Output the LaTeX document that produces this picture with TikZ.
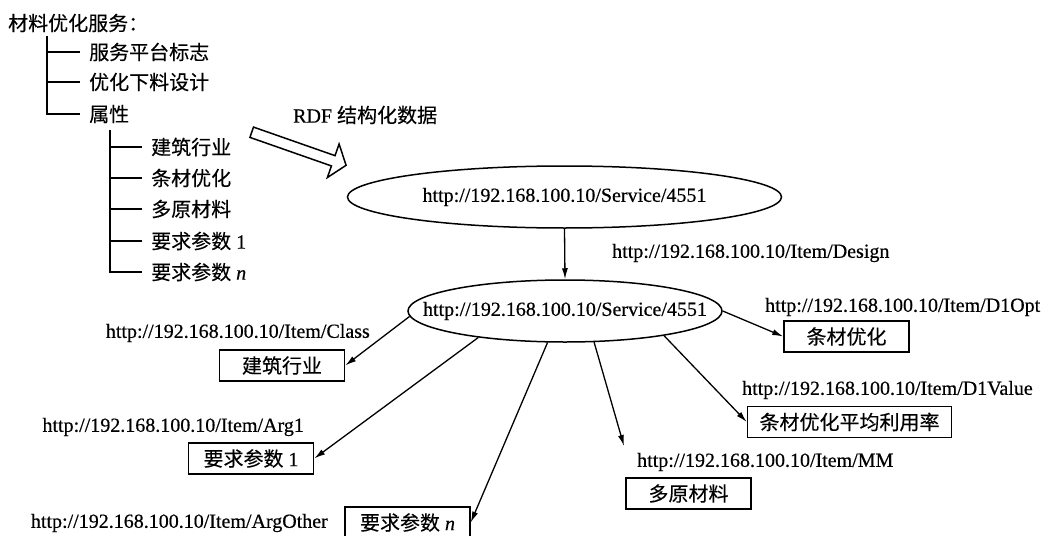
\documentclass[tikz,border=0pt]{standalone}
\usepackage{fontspec}
\setmainfont{Liberation Serif}[FakeBold=0.5]
\newfontfamily\cjk{Noto Sans CJK SC}[FakeBold=0.3]
\usetikzlibrary{arrows.meta,shapes.geometric,shapes.arrows}

\tikzset{
	txt/.style={font=\fontsize{20}{24}\selectfont, inner sep=0pt},
	leaf/.style={txt, anchor=west, inner xsep=9pt},
	res/.style={draw, line width=1.5pt, ellipse, inner sep=0pt, minimum height=62pt},
	val/.style={txt, draw, line width=1.5pt, minimum width=125pt, minimum height=31pt, inner xsep=12pt},
	link/.style={line width=1.3pt, -{Latex[length=11pt,width=6pt]}},
	branch/.style={line width=1.6pt}
}

\begin{document}
\begin{tikzpicture}[x=1pt,y=-1pt]
	\useasboundingbox (0,0) rectangle (1051,535);
	
	\node[txt, anchor=west] (title) at (8,23) {\cjk 材料优化服务：};
	\coordinate (top1) at (47,36);
	\node[leaf] (plat) at (80,52) {\cjk 服务平台标志};
	\node[leaf] (design) at (80,82) {\cjk 优化下料设计};
	\node[leaf] (attr) at (80,114) {\cjk 属性};
	\draw[branch] (top1) |- (attr.west);
	\draw[branch] (top1 |- plat.west) -- (plat.west);
	\draw[branch] (top1 |- design.west) -- (design.west);
	
	\coordinate (top2) at (110,130);
	\node[leaf] (build) at (142,147) {\cjk 建筑行业};
	\node[leaf] (bar) at (142,178) {\cjk 条材优化};
	\node[leaf] (raw) at (142,209) {\cjk 多原材料};
	\node[leaf] (arg1) at (142,241) {{\cjk 要求参数} 1};
	\node[leaf] (argn) at (142,272) {{\cjk 要求参数} \textit{n}};
	\draw[branch] (top2) |- (argn.west);
	\foreach \n in {build,bar,raw,arg1}
		\draw[branch] (top2 |- \n.west) -- (\n.west);
	
	\node[txt, anchor=west] (rdf) at (293,115) {RDF {\cjk 结构化数据}};
	\node[draw, line width=1.5pt, single arrow, rotate=-19.3, anchor=tail, minimum height=100pt, inner xsep=0pt, inner ysep=4.7pt, single arrow head extend=12.3pt, single arrow tip angle=105] (rdfarrow) at (251,132) {};
	
	\node[res, minimum width=434pt] (svc) at (564.5,197) {};
	\node[txt] at (svc) {http://192.168.100.10/Service/4551};
	\node[res, minimum width=314pt] (svcitem) at (565,311) {};
	\node[txt] at (svcitem) {http://192.168.100.10/Service/4551};
	\draw[link] (svc.south) -- (svcitem.north);
	
	\node[txt, anchor=west] (pdesign) at (612,253) {http://192.168.100.10/Item/Design};
	\node[txt, anchor=west] (popt) at (765,307) {http://192.168.100.10/Item/D1Opt};
	\node[txt, anchor=west] (pvalue) at (742,390) {http://192.168.100.10/Item/D1Value};
	\node[txt, anchor=west] (pmm) at (637,462) {http://192.168.100.10/Item/MM};
	\node[txt, anchor=east] (pclass) at (370,333) {http://192.168.100.10/Item/Class};
	\node[txt, anchor=east] (parg1) at (304,427) {http://192.168.100.10/Item/Arg1};
	\node[txt, anchor=east] (pother) at (328,523) {http://192.168.100.10/Item/ArgOther};
	
	\node[val] (vbuild) at (282,365.5) {\cjk 建筑行业};
	\node[val] (varg1) at (251,458.5) {{\cjk 要求参数} 1};
	\node[val] (vargn) at (407.5,522.5) {{\cjk 要求参数} \textit{n}};
	\node[val] (vmm) at (688.5,493.5) {\cjk 多原材料};
	\node[val] (vopt) at (846.5,336.5) {\cjk 条材优化};
	\node[val] (vvalue) at (849.5,422) {\cjk 条材优化平均利用率};
	\coordinate (mmend) at (624,446);
	
	\draw[link] (svcitem.182) -- (vbuild.east);
	\draw[link] (svcitem.197) -- (varg1.east);
	\draw[link] (svcitem.241) -- (vargn.east);
	\draw[link] (svcitem.313) -- (mmend);
	\draw[link] (svcitem.346) -- (vvalue.west);
	\draw[link] (svcitem.east) -- (vopt.west);
\end{tikzpicture}
\end{document}
